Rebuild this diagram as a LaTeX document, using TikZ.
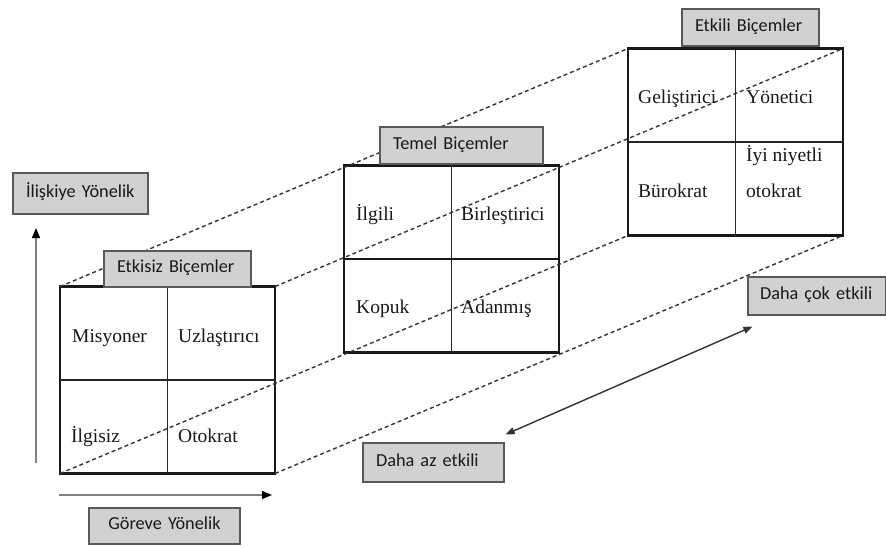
\documentclass[tikz,border=0pt]{standalone}
\usepackage{fontspec}
\newfontfamily\lblfont{Carlito}
\newfontfamily\cellfont{Liberation Serif}
\usetikzlibrary{arrows.meta}
\begin{document}
\begin{tikzpicture}[x=1pt,y=-1pt,
  lbl/.style={draw=black!65, line width=1.2pt, fill=black!18,
    font=\lblfont\fontsize{18.3}{20}\selectfont, text=black!90,
    inner xsep=13pt, inner ysep=0pt, align=left,
    text height=12pt, text depth=4.5pt},
  quad/.style={draw=black!90, line width=2.4pt, minimum width=215pt,
    minimum height=187pt, inner sep=0pt, outer sep=0pt},
  divider/.style={draw=black!85, line width=1.5pt},
  thickdiv/.style={draw=black!90, line width=2.4pt},
  cell/.style={font=\cellfont\fontsize{19.5}{22}\selectfont, text=black!90,
    anchor=base west, inner sep=0pt},
  edge/.style={draw=black!80, line width=1.4pt, dash pattern=on 4pt off 3pt},
  axis/.style={draw=black!50, line width=1.6pt,
    -{Triangle[length=10pt,width=8pt,color=black]}},
  span/.style={draw=black!80, line width=1.4pt,
    {Triangle[length=9pt,width=7pt]}-{Triangle[length=9pt,width=7pt]}},
]
\useasboundingbox (0,0) rectangle (886,547);

% the three style grids
\node[quad] (g1) at (167.5,380) {};
\node[quad] (g2) at (451.5,259) {};
\node[quad] (g3) at (735.5,142) {};

\draw[divider] (g1.north) -- (g1.south);
\draw[divider] (g1.west) -- (g1.east);
\draw[divider] (g2.north) -- (g2.south);
\draw[thickdiv] (g2.west) -- (g2.east);
\draw[divider] (g3.north) -- (g3.south);
\draw[divider] (g3.west) -- (g3.east);

% depth edges joining the corners
\draw[edge] (g1.north west) -- (g3.north west);
\draw[edge] (g1.north east) -- (g3.north east);
\draw[edge] (g1.south west) -- (g3.south west);
\draw[edge] (g1.south east) -- (g3.south east);

% cell texts
\node[cell] (misyoner) at (72,342) {Misyoner};
\node[cell] (uzlastirici) at (178,342) {Uzlaştırıcı};
\node[cell] (ilgisiz) at (71,442) {İlgisiz};
\node[cell] (otokrat) at (178,442) {Otokrat};

\node[cell] (ilgili) at (356,220) {İlgili};
\node[cell] (birlestirici) at (461,220) {Birleştirici};
\node[cell] (kopuk) at (356,313) {Kopuk};
\node[cell] (adanmis) at (461,313) {Adanmış};

\node[cell] (gelistirici) at (638,103) {Geliştirici};
\node[cell] (yonetici) at (746,103) {Yönetici};
\node[cell] (iyi) at (746,161) {İyi niyetli};
\node[cell] (otokrat2) at (746,197) {otokrat};
\node[cell] (burokrat) at (638,197) {Bürokrat};

% grey captions
\node[lbl, text width=109pt, minimum height=41pt] (ily) at (80.5,193.5) {İlişkiye Yönelik};
\node[lbl, text width=121pt, minimum height=36pt] (eks) at (177.5,269) {Etkisiz Biçemler};
\node[lbl, text width=137pt, minimum height=37pt] (tem) at (461.5,145.5) {Temel Biçemler};
\node[lbl, text width=111pt, minimum height=37pt] (etk) at (750.5,27.5) {Etkili Biçemler};
\node[lbl, inner xsep=12pt, text width=114pt, minimum height=38pt] (dcok) at (817,296) {\mbox{Daha çok etkili}};
\node[lbl, text width=115pt, minimum height=39pt] (daz) at (433.5,462.5) {Daha az etkili};
\node[lbl, text width=125pt, align=center, minimum height=36pt] (gor) at (164.5,526) {Göreve Yönelik};

% axes
\coordinate (vbot) at (36,463);
\coordinate (vtop) at (36,228);
\draw[axis] (vbot) -- (vtop);
\coordinate (hleft) at (59,495);
\coordinate (hright) at (272,495);
\draw[axis] (hleft) -- (hright);

% effectiveness arrow
\coordinate (lessend) at ([shift={(1,-8)}]daz.north east);
\coordinate (moreend) at ([shift={(5,11)}]dcok.south west);
\draw[span] (lessend) -- (moreend);
\end{tikzpicture}
\end{document}
